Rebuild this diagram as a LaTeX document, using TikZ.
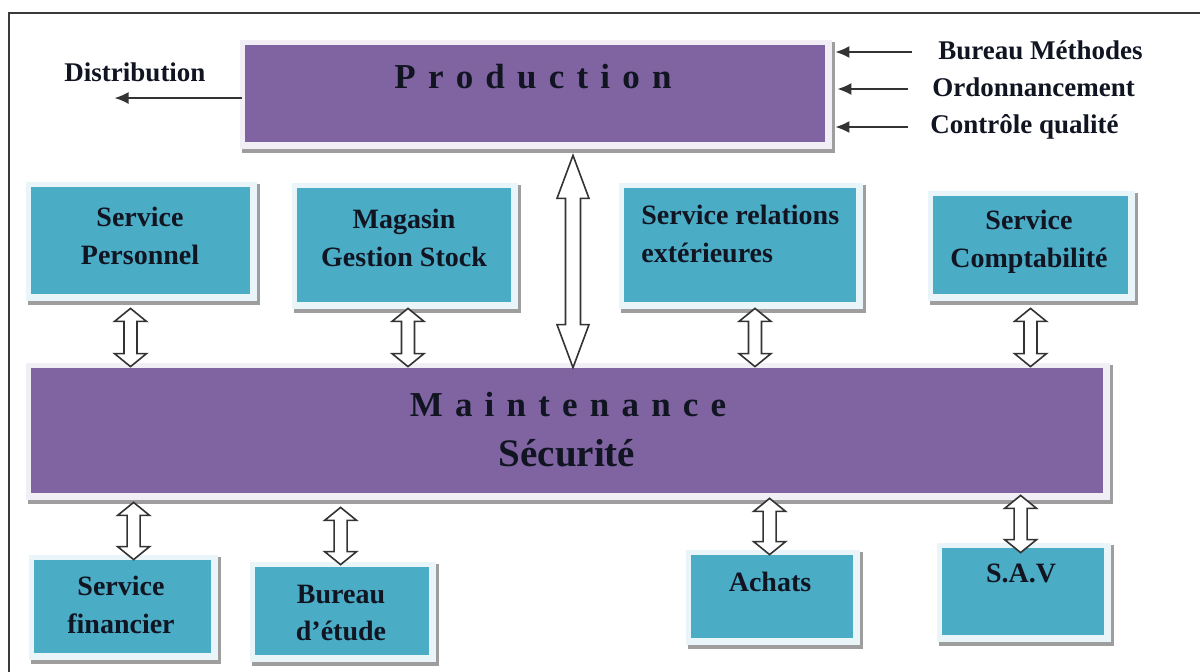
\documentclass[tikz,border=0pt]{standalone}
\usepackage{fontspec}
\setmainfont{Liberation Serif}
\usetikzlibrary{calc,arrows.meta}
\pgfdeclarelayer{background}
\pgfsetlayers{background,main}

\definecolor{violetbox}{HTML}{8064A2}
\definecolor{tealbox}{HTML}{4BACC6}
\definecolor{violethalo}{HTML}{F1EEF5}
\definecolor{tealhalo}{HTML}{EAF5F9}
\definecolor{shadowc}{HTML}{9E9E9E}
\definecolor{inkc}{HTML}{111522}
\definecolor{framec}{HTML}{3A3A3A}
\definecolor{arrowc}{HTML}{333333}

% light halo and grey drop shadow behind a box node
\newcommand\boxhalo[2]{%
  \fill[shadowc] ($(#1.north west)+(-3,-3)$) rectangle ($(#1.south east)+(10,11)$);
  \fill[#2] ($(#1.north west)+(-5,-5)$) rectangle ($(#1.south east)+(7,7)$);
}

% hollow two-headed block arrow: top tip, point giving the bottom y,
% half head width, head length, half shaft width
\newcommand\twoway[5]{%
  \draw[twowayline] let \p1=#1, \p2=#2 in
    (\x1,\y1) -- (\x1+#3,\y1-#4) -- (\x1+#5,\y1-#4) -- (\x1+#5,\y2+#4)
    -- (\x1+#3,\y2+#4) -- (\x1,\y2) -- (\x1-#3,\y2+#4) -- (\x1-#5,\y2+#4)
    -- (\x1-#5,\y1-#4) -- (\x1-#3,\y1-#4) -- cycle;
}

% letter-spaced heading text
\newcommand\spacedword[1]{{\spaceskip=6.1pt plus 0pt minus 0pt\relax #1}}

\tikzset{
  boxbase/.style={rectangle, inner sep=0pt, draw=none},
  violet/.style={boxbase, fill=violetbox},
  teal/.style={boxbase, fill=tealbox},
  outlabel/.style={text=inkc, font=\fontsize{13.5pt}{18.5pt}\selectfont\bfseries, inner sep=0pt},
  boxlabel/.style={text=inkc, font=\fontsize{14pt}{18.75pt}\selectfont\bfseries, align=center, inner sep=0pt},
  spaced/.style={text=inkc, inner sep=0pt, font=\fontsize{17.5pt}{20pt}\selectfont\bfseries},
  pointer/.style={draw=arrowc, line width=0.8pt, -{Latex[length=7pt,width=6pt]}},
  twowayline/.style={draw=arrowc, fill=white, line width=0.8pt, line join=miter},
}

\begin{document}
\begin{tikzpicture}[x=0.5pt, y=-0.5pt]
\useasboundingbox (0,0) rectangle (1200,671);
\clip (0,0) rectangle (1200,671);

% main boxes
\node[violet, minimum width=290pt, minimum height=48.5pt] (prod) at (535,93.5) {};
\node[violet, minimum width=536pt, minimum height=62.5pt] (maint) at (567,430.5) {};

% services above the maintenance band
\node[teal, minimum width=109.5pt, minimum height=53.5pt] (pers) at (140.5,240.5) {};
\node[teal, minimum width=107pt, minimum height=57pt] (maga) at (404,245) {};
\node[teal, minimum width=116pt, minimum height=57pt] (rel) at (740,245) {};
\node[teal, minimum width=97.5pt, minimum height=49pt] (compt) at (1030.5,245) {};

% services below the maintenance band
\node[teal, minimum width=88.5pt, minimum height=46.5pt] (fin) at (122.5,606.5) {};
\node[teal, minimum width=87pt, minimum height=44pt] (bur) at (342,611) {};
\node[teal, minimum width=81pt, minimum height=41.5pt] (ach) at (772,596.5) {};
\node[teal, minimum width=81pt, minimum height=43.5pt] (sav) at (1023,591.5) {};

\begin{pgfonlayer}{background}
  \fill[white] (0,0) rectangle (1200,671);
  \boxhalo{prod}{violethalo}
  \boxhalo{maint}{violethalo}
  \boxhalo{pers}{tealhalo}
  \boxhalo{maga}{tealhalo}
  \boxhalo{rel}{tealhalo}
  \boxhalo{compt}{tealhalo}
  \boxhalo{fin}{tealhalo}
  \boxhalo{bur}{tealhalo}
  \boxhalo{ach}{tealhalo}
  \boxhalo{sav}{tealhalo}
\end{pgfonlayer}

% outer frame, running off the right and bottom edges
\draw[framec, line width=1pt] (9,720) -- (9,13) -- (1240,13);

% box texts
\node[spaced] (prodtxt) at (533,77) {\spacedword{P r o d u c t i o n}};
\node[spaced] (mainttxt) at (568,405) {\spacedword{M a i n t e n a n c e}};
\node[text=inkc, inner sep=0pt, font=\fontsize{19.5pt}{21pt}\selectfont\bfseries] (secu) at (567,453) {Sécurité};

\node[boxlabel] (perstxt) at (140,236) {Service\\Personnel};
\node[boxlabel] (magatxt) at (404,238) {Magasin\\Gestion Stock};
\node[boxlabel, align=left, anchor=west] (reltxt) at (641,234) {Service relations\\extérieures};
\node[boxlabel] (compttxt) at (1029,242) {Service\\Comptabilité};
\node[boxlabel] (fintxt) at (121,605) {Service\\financier};
\node[boxlabel] (burtxt) at (341,613) {Bureau\\d’étude};
\node[boxlabel] (achtxt) at (770,582) {Achats};
\node[boxlabel] (savtxt) at (1021,573) {S.A.V};

% outside labels
\node[outlabel] (dist) at (135,72) {Distribution};
\node[outlabel, anchor=west] (bm) at (938,50) {Bureau Méthodes};
\node[outlabel, anchor=west] (ord) at (932,87) {Ordonnancement};
\node[outlabel, anchor=west] (cq) at (930,127) {Contrôle qualité};

% single arrows
\draw[pointer] ($(prod.west)+(-3,4.5)$) -- ($(prod.west)+(-130,4.5)$);
\draw[pointer] ($(bm.west)+(-26,2)$) -- ($(bm.west -| prod.east)+(10,2)$);
\draw[pointer] ($(ord.west)+(-24,2)$) -- ($(ord.west -| prod.east)+(12,2)$);
\draw[pointer] ($(cq.west)+(-22,0)$) -- ($(cq.west -| prod.east)+(10,0)$);

% production <-> maintenance
\twoway{($(prod.south)+(38,13)$)}{(maint.north)}{8pt}{21.5pt}{3.75pt}

% upper services <-> maintenance
\twoway{($(pers.south)+(-10,14)$)}{($(maint.north)+(0,-1)$)}{8pt}{6.5pt}{3.25pt}
\twoway{($(maga.south)+(4,6)$)}{($(maint.north)+(0,-1)$)}{8pt}{6.5pt}{3.25pt}
\twoway{($(rel.south)+(15,6)$)}{($(maint.north)+(0,-1)$)}{8pt}{6.5pt}{3.25pt}
\twoway{($(compt.south)+(0,14)$)}{($(maint.north)+(0,-1)$)}{8pt}{6.5pt}{3.25pt}

% maintenance <-> lower services
\twoway{($(maint.south west)+(103,9)$)}{(fin.north)}{8pt}{6.5pt}{3.25pt}
\twoway{($(maint.south west)+(310,14)$)}{($(bur.north)+(0,-2)$)}{8pt}{6.5pt}{3.25pt}
\twoway{($(maint.south west)+(739,5)$)}{(ach.north)}{8pt}{6.5pt}{3.25pt}
\twoway{($(maint.south west)+(990,2)$)}{($(sav.north)+(0,5)$)}{8pt}{6.5pt}{3.25pt}
\end{tikzpicture}
\end{document}
